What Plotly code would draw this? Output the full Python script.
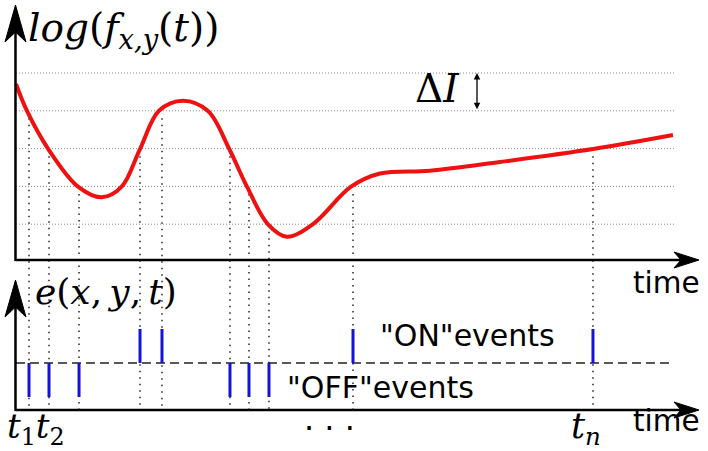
import plotly.graph_objects as go

W, H = 708, 451

# ---- data (time in arbitrary units, log-intensity in threshold units) ----
curve_t = [0.0, 1.667, 4.848, 9.394, 12.985, 16.015, 18.788, 21.667, 25.303, 29.091, 32.273,
           35.0, 38.182, 41.061, 45.0, 50.758, 55.152, 62.727, 73.333, 87.424, 99.545]
curve_L = [4.709, 3.995, 2.997, 1.992, 1.712, 1.992, 2.989, 4.003, 4.267, 3.995, 3.003,
           1.992, 0.997, 0.669, 1.005, 1.992, 2.341, 2.415, 2.646, 2.989, 3.360]

grid_levels = [1, 2, 3, 4, 5]

event_t = [1.97, 5.0, 9.55, 18.79, 22.12, 32.42, 35.3, 38.33, 51.06, 87.42]
event_pol = [-1, -1, -1, 1, 1, -1, -1, -1, 1, 1]
event_level = [4, 3, 2, 3, 4, 3, 2, 1, 2, 3]

# ---- layout geometry (pixel <-> data) ----
X0_PX, X_SCALE = 16, 6.6        # px = X0_PX + t*X_SCALE
Y0_PX, Y_SCALE = 262, 37.8      # py = Y0_PX - L*Y_SCALE
x_range = [-X0_PX / X_SCALE, (W - X0_PX) / X_SCALE]
y_range = [(Y0_PX - H) / Y_SCALE, Y0_PX / Y_SCALE]

EVENT_BASE = (Y0_PX - 363) / Y_SCALE
EVENT_H = 34 / Y_SCALE
BOTTOM_AXIS = (Y0_PX - 410) / Y_SCALE
GRID_END = (676 - X0_PX) / X_SCALE
DASH_END = (670 - X0_PX) / X_SCALE


def px(x):
    return x / W


def py(y):
    return 1 - y / H


fig = go.Figure()

# dotted vertical guide lines
vx, vy = [], []
for t, lv in zip(event_t, event_level):
    vx += [t, t, None]
    vy += [lv - 0.2, BOTTOM_AXIS, None]
fig.add_trace(go.Scatter(x=vx, y=vy, mode='lines',
                         line=dict(color='#222222', width=1.5, dash='1.5px,5px'),
                         hoverinfo='skip'))

# intensity curve
fig.add_trace(go.Scatter(x=curve_t, y=curve_L, mode='lines',
                         line=dict(color='#ee1111', width=4, shape='spline', smoothing=1.0),
                         hoverinfo='skip'))

# event bars
ex, ey = [], []
for t, p in zip(event_t, event_pol):
    ex += [t, t, None]
    ey += [EVENT_BASE, EVENT_BASE + p * EVENT_H, None]
fig.add_trace(go.Scatter(x=ex, y=ey, mode='lines',
                         line=dict(color='#1414d8', width=3),
                         hoverinfo='skip'))

shapes = []
for lv in grid_levels:
    shapes.append(dict(type='line', xref='x', yref='y', x0=0, x1=GRID_END, y0=lv, y1=lv,
                       line=dict(color='#8a8a8a', width=1, dash='1px,2px'), layer='below'))
shapes.append(dict(type='line', xref='x', yref='y', x0=0, x1=DASH_END,
                   y0=EVENT_BASE, y1=EVENT_BASE,
                   line=dict(color='#222222', width=1.3, dash='9px,5px'), layer='below'))

AX = dict(color='black', width=2.5)
# top panel axes
shapes.append(dict(type='line', xref='paper', yref='paper', x0=px(15.5), x1=px(15.5),
                   y0=py(261), y1=py(30), line=AX))
shapes.append(dict(type='line', xref='paper', yref='paper', x0=px(15.5), x1=px(680),
                   y0=py(260), y1=py(260), line=AX))
# bottom panel axes
shapes.append(dict(type='line', xref='paper', yref='paper', x0=px(15.5), x1=px(15.5),
                   y0=py(411), y1=py(305), line=AX))
shapes.append(dict(type='line', xref='paper', yref='paper', x0=px(15.5), x1=px(680),
                   y0=py(410), y1=py(410), line=AX))


def head_up(xt, yt, w=10.5, L=37, notch=10):
    return (f"M {px(xt)} {py(yt)} L {px(xt - w)} {py(yt + L)} "
            f"L {px(xt)} {py(yt + L - notch)} L {px(xt + w)} {py(yt + L)} Z")


def head_right(xt, yt, w=8, L=25, notch=7):
    return (f"M {px(xt)} {py(yt)} L {px(xt - L)} {py(yt - w)} "
            f"L {px(xt - L + notch)} {py(yt)} L {px(xt - L)} {py(yt + w)} Z")


for path in [head_up(15.5, 5), head_up(15.5, 280), head_right(699, 260), head_right(699, 410)]:
    shapes.append(dict(type='path', xref='paper', yref='paper', path=path,
                       fillcolor='black', line=dict(color='black', width=1)))

SERIF = 'DejaVu Serif'
SANS = 'DejaVu Sans'
ann = []


def text(x, y, s, size, fam, xanchor='left'):
    ann.append(dict(xref='paper', yref='paper', x=px(x), y=py(y), text=s, showarrow=False,
                    xanchor=xanchor, yanchor='middle',
                    font=dict(family=fam, size=size, color='black')))


text(26, 30, '<i>log</i>(<i>f</i><sub><i>x,y</i></sub>(<i>t</i>))', 39, SERIF)
text(413, 89, 'Δ<i>I</i>', 39, SERIF)
text(33, 291, '<i>e</i>(<i>x</i>,\u2009<i>y</i>,\u2009<i>t</i>)', 36, SERIF)
text(631, 283, 'time', 29.5, SANS)
text(631, 421, 'time', 29.5, SANS)
text(378, 335, '"ON"events', 30, SANS)
text(285, 387, '"OFF"events', 30, SANS)
text(5, 428, '<i>t</i><sub>1</sub><i>t</i><sub>2</sub>', 34, SERIF)
text(569, 428, '<i>t</i><sub><i>n</i></sub>', 35, SERIF)
text(302, 428, '· · ·', 32, SANS)

# ΔI double arrow
ann.append(dict(xref='x', yref='y', axref='x', ayref='y',
                x=(477 - X0_PX) / X_SCALE, y=5, ax=(477 - X0_PX) / X_SCALE, ay=4,
                text='', showarrow=True, arrowside='end+start', arrowhead=2,
                arrowsize=1, arrowwidth=1.3, arrowcolor='black'))

fig.update_layout(width=W, height=H, autosize=False,
                  margin=dict(l=0, r=0, t=0, b=0),
                  paper_bgcolor='white', plot_bgcolor='white', showlegend=False,
                  xaxis=dict(range=x_range, visible=False, fixedrange=True),
                  yaxis=dict(range=y_range, visible=False, fixedrange=True),
                  shapes=shapes, annotations=ann)

fig.write_html('out.html', config={'displayModeBar': False},
               post_script="document.body.style.margin='0';")
